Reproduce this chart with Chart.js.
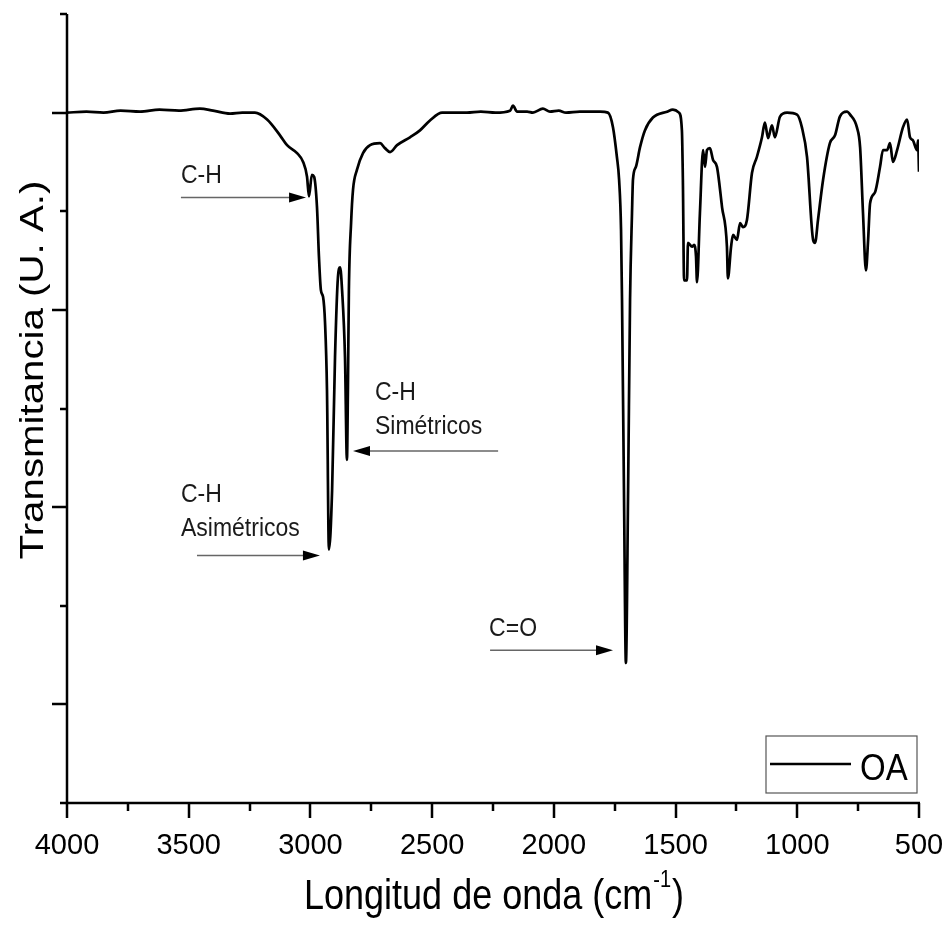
<!DOCTYPE html>
<html>
<head>
<meta charset="utf-8">
<script src="https://cdn.jsdelivr.net/npm/chart.js@4.4.1/dist/chart.umd.min.js"></script>
<style>
  html, body { margin: 0; padding: 0; background: #fff; }
</style>
</head>
<body>
<canvas id="chart" width="947" height="932"></canvas>
<script>
// FTIR spectrum of OA
const wavenumbers = [
  4000, 3920, 3850, 3780, 3700, 3620, 3540, 3454, 3400, 3330, 3280, 3228, 3178, 3125, 3096, 3055,
  3030, 3014, 3006, 2994, 2985, 2973, 2965, 2957, 2948, 2940, 2932, 2924, 2911, 2899, 2887, 2878,
  2870, 2858, 2850, 2846, 2842, 2833, 2825, 2809, 2784, 2755, 2714, 2694, 2673, 2644, 2591, 2550,
  2509, 2459, 2400, 2357, 2300, 2240, 2180, 2168, 2151, 2110, 2086, 2045, 2016, 1980, 1950, 1893,
  1850, 1810, 1778, 1757, 1741, 1732, 1724, 1720, 1712, 1704, 1695, 1687, 1679, 1675, 1663, 1646,
  1626, 1593, 1535, 1511, 1486, 1474, 1470, 1465, 1453, 1449, 1432, 1424, 1416, 1412, 1400, 1387,
  1379, 1371, 1359, 1346, 1330, 1309, 1289, 1285, 1272, 1264, 1248, 1235, 1223, 1207, 1186, 1166,
  1145, 1133, 1120, 1104, 1092, 1071, 1042, 1001, 981, 960, 935, 927, 915, 894, 866, 845,
  825, 796, 783, 755, 742, 730, 718, 709, 701, 681, 660, 648, 631, 619, 607, 590,
  566, 549, 537, 525, 508, 504, 500
];
const transmittance = [
  70.0, 70.1, 70.0, 70.2, 70.1, 70.3, 70.2, 70.4, 70.2, 69.9, 70.0, 70.0, 69.3, 67.7, 66.7, 65.9,
  65.0, 63.5, 61.5, 63.7, 63.5, 60.4, 55.4, 52.0, 51.3, 48.7, 41.9, 25.7, 31.7, 45.2, 53.3, 54.3,
  52.0, 45.2, 34.8, 41.9, 52.0, 58.8, 62.2, 64.2, 65.9, 66.7, 66.9, 66.4, 66.0, 66.7, 67.5, 68.2,
  69.2, 70.0, 70.0, 70.0, 70.1, 70.0, 70.2, 70.7, 70.1, 70.1, 70.0, 70.4, 70.1, 70.2, 70.0, 70.1,
  70.1, 70.1, 70.0, 68.5, 65.5, 63.2, 58.1, 51.0, 31.7, 14.2, 31.7, 51.0, 59.8, 63.2, 64.5, 66.5,
  68.2, 69.5, 70.1, 70.3, 70.0, 68.2, 63.2, 53.0, 53.0, 56.8, 56.4, 56.6, 55.4, 52.8, 59.8, 66.2,
  64.5, 66.2, 66.4, 65.2, 64.5, 60.4, 56.4, 53.2, 56.4, 57.6, 57.1, 58.8, 58.4, 59.1, 63.9, 65.5,
  67.5, 69.0, 67.4, 68.7, 67.5, 69.6, 70.0, 69.8, 68.5, 65.5, 57.1, 56.8, 59.1, 63.2, 66.9, 67.7,
  69.6, 70.1, 69.8, 68.5, 66.5, 59.8, 54.0, 57.1, 60.8, 61.9, 64.5, 66.2, 66.2, 66.9, 65.0, 66.2,
  68.5, 69.3, 67.5, 67.2, 66.2, 67.2, 64.0
];
const xTickLabels = [4000, 3500, 3000, 2500, 2000, 1500, 1000, 500];
const seriesName = 'OA';

// band annotations: text lines, text anchor (left edge, first line), arrow tail and head
const noteLabels = [['C-H'], ['C-H', 'Simétricos'], ['C-H', 'Asimétricos'], ['C=O']];
const noteTextAt = [[3532, 63.6], [2735, 41.6], [3532, 31.3], [2266, 17.7]];
const noteArrowFrom = [[3532, 61.4], [2229, 35.7], [3466, 25.1], [2262, 15.5]];
const noteArrowTo = [[3018, 61.4], [2825, 35.7], [2961, 25.1], [1757, 15.5]];

const FONT = "'Liberation Sans', Arial, sans-serif";

function stretchedText(ctx, text, x, y, size, sy, align) {
  ctx.save();
  ctx.translate(x, y);
  ctx.scale(1, sy);
  ctx.font = size + 'px ' + FONT;
  ctx.textAlign = align || 'left';
  ctx.fillText(text, 0, 0);
  ctx.restore();
}

const spectrumDecor = {
  id: 'spectrumDecor',
  afterDatasetsDraw(chart) {
    const ctx = chart.ctx;
    const xs = chart.scales.x, ys = chart.scales.y;
    ctx.save();
    // annotations
    noteLabels.forEach((lines, i) => {
      const tx = xs.getPixelForValue(noteTextAt[i][0]);
      const ty = ys.getPixelForValue(noteTextAt[i][1]);
      ctx.fillStyle = '#1a1a1a';
      ctx.textBaseline = 'middle';
      lines.forEach((s, k) => stretchedText(ctx, s, tx, ty + k * 34, 23, 1.15));
      const x0 = xs.getPixelForValue(noteArrowFrom[i][0]);
      const y0 = ys.getPixelForValue(noteArrowFrom[i][1]);
      const x1 = xs.getPixelForValue(noteArrowTo[i][0]);
      const y1 = ys.getPixelForValue(noteArrowTo[i][1]);
      const dir = Math.sign(x1 - x0);
      ctx.strokeStyle = '#666';
      ctx.lineWidth = 1.5;
      ctx.beginPath();
      ctx.moveTo(x0, y0);
      ctx.lineTo(x1 - dir * 10, y1);
      ctx.stroke();
      ctx.fillStyle = '#000';
      ctx.beginPath();
      ctx.moveTo(x1, y1);
      ctx.lineTo(x1 - dir * 17, y1 - 5);
      ctx.lineTo(x1 - dir * 17, y1 + 5);
      ctx.closePath();
      ctx.fill();
    });
    ctx.restore();
  },
  afterDraw(chart) {
    const ctx = chart.ctx;
    const xs = chart.scales.x, ys = chart.scales.y;
    const area = chart.chartArea;
    ctx.save();
    ctx.strokeStyle = '#000';
    ctx.lineWidth = 2.5;
    ctx.lineCap = 'butt';
    // axes
    ctx.beginPath();
    ctx.moveTo(area.left, area.top);
    ctx.lineTo(area.left, area.bottom);
    ctx.lineTo(area.right + 1, area.bottom);
    ctx.stroke();
    // x ticks, major every 500, minor every 250
    ctx.beginPath();
    for (let v = xs.min; v <= xs.max; v += 250) {
      const px = Math.round(xs.getPixelForValue(v));
      const len = v % 500 === 0 ? 15 : 8;
      ctx.moveTo(px, area.bottom);
      ctx.lineTo(px, area.bottom + len);
    }
    // y ticks, alternating long and short
    for (let v = ys.min; v <= ys.max; v += 10) {
      const py = Math.round(ys.getPixelForValue(v));
      const len = (v / 10) % 2 === 1 ? 15 : 7;
      ctx.moveTo(area.left - len, py);
      ctx.lineTo(area.left, py);
    }
    ctx.stroke();

    // axis titles
    ctx.fillStyle = '#000';
    ctx.textBaseline = 'alphabetic';
    const main = 'Longitud de onda (cm';
    ctx.font = '36px ' + FONT;
    const wMain = ctx.measureText(main).width;
    ctx.font = '20px ' + FONT;
    const wSup = ctx.measureText('-1').width;
    ctx.font = '36px ' + FONT;
    const wEnd = ctx.measureText(')').width;
    const total = wMain + wSup + wEnd;
    const cx = (area.left + area.right) / 2;
    const sx = cx - total / 2;
    const base = 909;
    stretchedText(ctx, main, sx, base, 36, 1.2);
    stretchedText(ctx, '-1', sx + wMain + 1, base - 22, 20, 1.2);
    stretchedText(ctx, ')', sx + wMain + wSup + 2, base, 36, 1.2);

    ctx.save();
    ctx.translate(43, 370);
    ctx.rotate(-Math.PI / 2);
    ctx.scale(1.22, 1);
    ctx.font = '33px ' + FONT;
    ctx.textAlign = 'center';
    ctx.fillText('Transmitancia (U. A.)', 0, 0);
    ctx.restore();

    // legend box
    const lx = area.right - 153, ly = area.bottom - 67;
    ctx.strokeStyle = '#555';
    ctx.lineWidth = 1.2;
    ctx.strokeRect(lx, ly, 151, 57);
    ctx.strokeStyle = '#000';
    ctx.lineWidth = 2.5;
    ctx.beginPath();
    ctx.moveTo(lx + 4, ly + 28);
    ctx.lineTo(lx + 85, ly + 28);
    ctx.stroke();
    ctx.textBaseline = 'alphabetic';
    stretchedText(ctx, seriesName, lx + 94, ly + 44, 33, 1.12);
    ctx.restore();
  }
};

const points = wavenumbers.map((w, i) => ({ x: w, y: transmittance[i] }));

new Chart(document.getElementById('chart'), {
  type: 'line',
  data: {
    datasets: [{
      label: seriesName,
      data: points,
      borderColor: '#000',
      borderWidth: 2.7,
      pointRadius: 0,
      cubicInterpolationMode: 'monotone',
      fill: false
    }]
  },
  options: {
    responsive: false,
    animation: false,
    devicePixelRatio: 1,
    layout: { padding: { top: 14, right: 28, left: 0, bottom: 0 } },
    plugins: { legend: { display: false }, tooltip: { enabled: false } },
    scales: {
      x: {
        type: 'linear',
        reverse: true,
        min: 500,
        max: 4000,
        grid: { display: false, drawTicks: false },
        border: { display: false },
        afterFit: s => { s.height = 129; s.paddingLeft = 0; s.paddingRight = 0; },
        afterBuildTicks: s => { s.ticks = xTickLabels.map(v => ({ value: v })); },
        ticks: {
          autoSkip: false,
          maxRotation: 0,
          padding: 26,
          color: '#000',
          font: { family: FONT, size: 29 },
          callback: v => String(v)
        }
      },
      y: {
        type: 'linear',
        min: 0,
        max: 80,
        grid: { display: false, drawTicks: false },
        border: { display: false },
        afterFit: s => { s.width = 67; s.paddingTop = 0; s.paddingBottom = 0; },
        ticks: { display: false, stepSize: 10 }
      }
    }
  },
  plugins: [spectrumDecor]
});
</script>
</body>
</html>
